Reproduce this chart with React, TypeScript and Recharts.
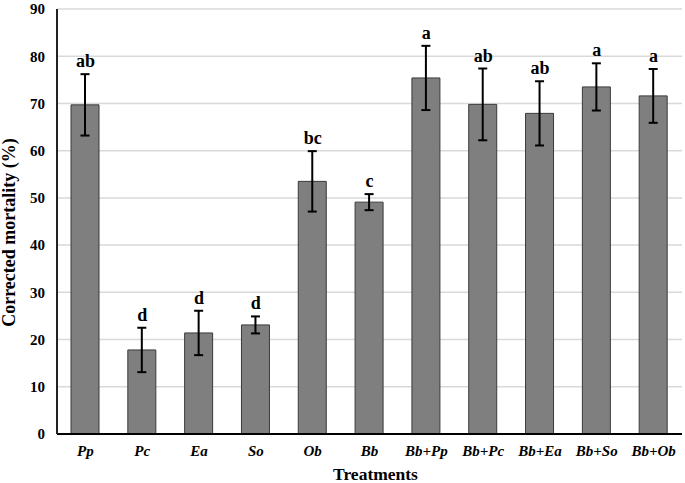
import React from 'react'
import { ComposedChart, Bar, Line, ErrorBar, LabelList, XAxis, YAxis, CartesianGrid } from 'recharts'

const treatments = ['Pp', 'Pc', 'Ea', 'So', 'Ob', 'Bb', 'Bb+Pp', 'Bb+Pc', 'Bb+Ea', 'Bb+So', 'Bb+Ob']
const means = [69.7, 17.8, 21.4, 23.1, 53.5, 49.1, 75.4, 69.8, 67.9, 73.5, 71.6]
const errors = [6.5, 4.7, 4.7, 1.8, 6.4, 1.7, 6.8, 7.6, 6.8, 5.0, 5.7]
const letters = ['ab', 'd', 'd', 'd', 'bc', 'c', 'a', 'ab', 'ab', 'a', 'a']
const yTicks = [0, 10, 20, 30, 40, 50, 60, 70, 80, 90]

const data = treatments.map((name, i) => ({
  name,
  mean: means[i],
  err: errors[i],
  top: means[i] + errors[i],
  letter: letters[i],
}))

const FONT = '"Liberation Serif", "Times New Roman", serif'

const YTitle = (props: any) => {
  const { x, y, height } = props.viewBox
  const cx = x + 9
  const cy = y + height / 2 + 11
  return (
    <text x={cx} y={cy} transform={`rotate(-90, ${cx}, ${cy})`} textAnchor="middle" dominantBaseline="central"
      fontFamily={FONT} fontWeight="bold" fontSize={18} fill="#000">
      Corrected mortality (%)
    </text>
  )
}

export default function App() {
  return (
    <div style={{ position: 'absolute', left: 0, top: 0, width: 685, height: 483, background: '#fff' }}>
      <ComposedChart width={685} height={483} data={data} margin={{ top: 9, right: 3, bottom: 0, left: 0 }}
        barCategoryGap="50%">
        <CartesianGrid vertical={false} stroke="#d9d9d9" strokeWidth={1.5} />
        <XAxis dataKey="name" height={49} axisLine={{ stroke: '#000', strokeWidth: 2 }} tickLine={false}
          tickSize={6} tickMargin={5}
          tick={{ fontFamily: FONT, fontWeight: 'bold', fontStyle: 'italic', fontSize: 15, fill: '#000' }}
          label={{ value: 'Treatments', position: 'insideBottom', offset: 3, dx: 6, fontFamily: FONT, fontWeight: 'bold', fontSize: 17.5, fill: '#000' }} />
        <YAxis width={57} domain={[0, 90]} ticks={yTicks} interval={0} axisLine={{ stroke: '#222', strokeWidth: 2 }}
          tickLine={false} tickSize={6} tickMargin={6}
          tick={{ fontFamily: FONT, fontWeight: 'bold', fontSize: 15, fill: '#000' }}
          label={<YTitle />} />
        <Bar dataKey="mean" barSize={28} fill="#7f7f7f" stroke="#3a3a3a" strokeWidth={1} isAnimationActive={false}>
          <ErrorBar dataKey="err" width={4.5} stroke="#000" strokeWidth={2} direction="y" />
        </Bar>
        <Line dataKey="top" stroke="none" dot={false} activeDot={false} isAnimationActive={false}>
          <LabelList dataKey="letter" position="top" offset={7}
            style={{ fontFamily: FONT, fontWeight: 'bold', fontSize: 18, fill: '#000' }} />
        </Line>
      </ComposedChart>
    </div>
  )
}
